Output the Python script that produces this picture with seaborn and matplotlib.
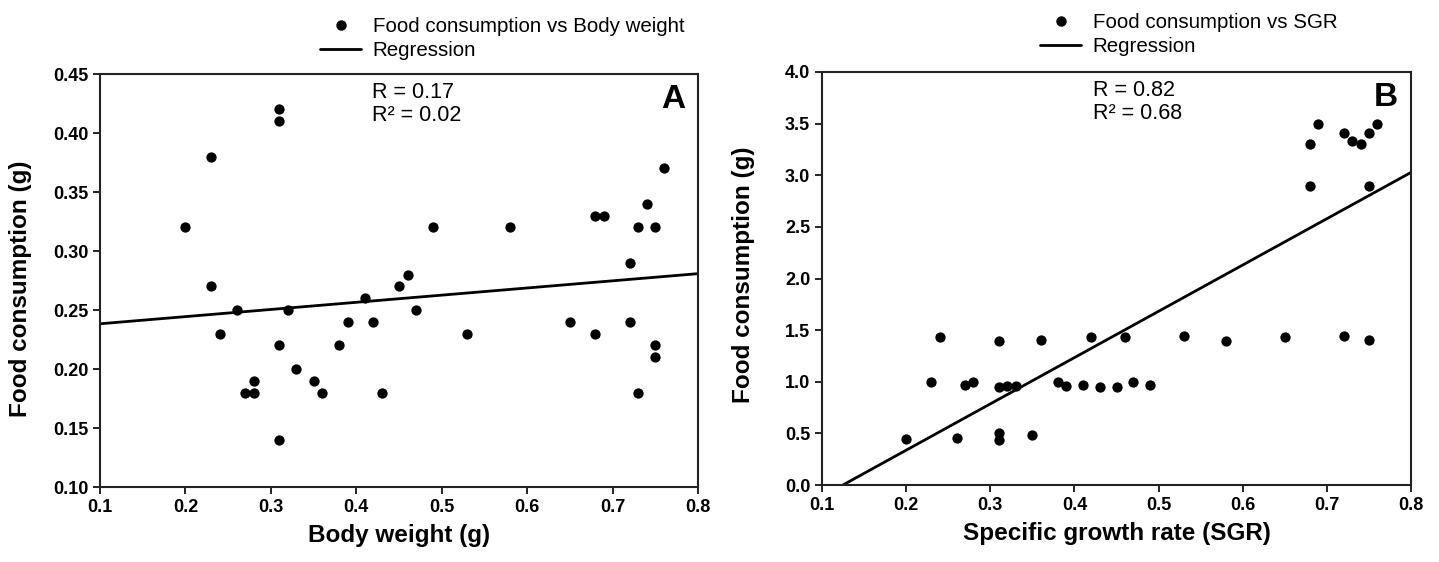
import matplotlib
matplotlib.use("Agg")
import matplotlib.pyplot as plt
from matplotlib.lines import Line2D
import numpy as np
import pandas as pd
import seaborn as sns

# Panel A: food consumption vs body weight
body_weight = [0.20, 0.23, 0.23, 0.24, 0.26, 0.27, 0.28, 0.28, 0.31, 0.31,
               0.31, 0.31, 0.32, 0.33, 0.35, 0.36, 0.38, 0.39, 0.41, 0.42,
               0.43, 0.45, 0.46, 0.47, 0.49, 0.53, 0.58, 0.65, 0.68, 0.69,
               0.68, 0.72, 0.72, 0.73, 0.73, 0.74, 0.75, 0.75, 0.75, 0.76]
food_a = [0.32, 0.38, 0.27, 0.23, 0.25, 0.18, 0.19, 0.18, 0.42, 0.41,
          0.22, 0.14, 0.25, 0.20, 0.19, 0.18, 0.22, 0.24, 0.26, 0.24,
          0.18, 0.27, 0.28, 0.25, 0.32, 0.23, 0.32, 0.24, 0.33, 0.33,
          0.23, 0.29, 0.24, 0.32, 0.18, 0.34, 0.32, 0.22, 0.21, 0.37]

# Panel B: food consumption vs SGR
sgr = [0.20, 0.23, 0.24, 0.26, 0.27, 0.28, 0.31, 0.31, 0.31, 0.31,
       0.32, 0.33, 0.35, 0.36, 0.38, 0.39, 0.41, 0.42, 0.43, 0.45,
       0.46, 0.47, 0.49, 0.53, 0.58, 0.65, 0.68, 0.68, 0.69, 0.72,
       0.72, 0.73, 0.74, 0.75, 0.75, 0.75, 0.76]
food_b = [0.45, 1.00, 1.43, 0.46, 0.97, 1.00, 1.39, 0.95, 0.50, 0.44,
          0.96, 0.96, 0.48, 1.40, 1.00, 0.96, 0.97, 1.43, 0.95, 0.95,
          1.43, 1.00, 0.97, 1.44, 1.39, 1.43, 2.90, 3.30, 3.50, 3.41,
          1.44, 3.33, 3.30, 3.41, 2.90, 1.40, 3.50]

sns.set_style("ticks")
plt.rcParams['font.family'] = ['Liberation Sans', 'DejaVu Sans']
plt.rcParams['text.color'] = 'black'
plt.rcParams['axes.labelcolor'] = 'black'

fig = plt.figure(figsize=(14.39, 5.62), dpi=100)
W, H = 1439, 562
ax_a = fig.add_axes([100 / W, 1 - 487 / H, 598 / W, 413 / H])
ax_b = fig.add_axes([822 / W, 1 - 485 / H, 589 / W, 413 / H])

df_a = pd.DataFrame({'x': body_weight, 'y': food_a})
df_b = pd.DataFrame({'x': sgr, 'y': food_b})


def draw_panel(ax, df, xlabel, ylim, yticks, yfmt, r_text, letter, legend_label,
               legend_anchor, ylab_y):
    ax.set_xlim(0.1, 0.8)
    ax.set_ylim(*ylim)
    sns.regplot(data=df, x='x', y='y', ax=ax, ci=None, truncate=False,
                scatter_kws=dict(s=55, color='black', alpha=1, linewidths=0),
                line_kws=dict(color='black', lw=2))
    ax.set_xlim(0.1, 0.8)
    ax.set_ylim(*ylim)
    ax.set_xticks(np.arange(0.1, 0.81, 0.1))
    ax.set_xticklabels([f"{v:.1f}" for v in np.arange(0.1, 0.81, 0.1)])
    ax.set_yticks(yticks)
    ax.set_yticklabels([yfmt.format(v) for v in yticks])
    ax.tick_params(direction='out', length=5, width=1.2, labelsize=13, colors='black')
    for lab in ax.get_xticklabels() + ax.get_yticklabels():
        lab.set_fontweight('bold')
    for sp in ax.spines.values():
        sp.set_visible(True)
        sp.set_linewidth(1.5)
        sp.set_color('#222222')
    ax.set_xlabel(xlabel, fontsize=17.5, fontweight='bold', labelpad=6)
    ax.set_ylabel('Food consumption (g)', fontsize=17.5, fontweight='bold')
    ax.yaxis.set_label_coords(-0.113, ylab_y)
    ax.text(0.455 if letter == 'A' else 0.46, 0.98, r_text, transform=ax.transAxes,
            fontsize=15.5, va='top', ha='left', linespacing=1.1)
    ax.text(0.978, 0.975, letter, transform=ax.transAxes, fontsize=24,
            fontweight='bold', ha='right', va='top')
    handles = [Line2D([], [], marker='o', color='black', ls='none', markersize=6.5),
               Line2D([], [], color='black', lw=2)]
    fig.legend(handles, [legend_label, 'Regression'], loc='upper left',
               bbox_to_anchor=legend_anchor, frameon=False, fontsize=14.8,
               handlelength=2.0, handletextpad=0.55, labelspacing=0.25,
               borderaxespad=0)


draw_panel(ax_a, df_a, 'Body weight (g)', (0.10, 0.45),
           np.round(np.arange(0.10, 0.451, 0.05), 2), "{:.2f}",
           "R = 0.17\nR² = 0.02", 'A', 'Food consumption vs Body weight',
           (312 / W, 1 - 9 / H), 0.48)
draw_panel(ax_b, df_b, 'Specific growth rate (SGR)', (0.0, 4.0),
           np.round(np.arange(0.0, 4.01, 0.5), 1), "{:.1f}",
           "R = 0.82\nR² = 0.68", 'B', 'Food consumption vs SGR',
           (1032 / W, 1 - 5 / H), 0.51)

fig.savefig("out.png", dpi=100)
